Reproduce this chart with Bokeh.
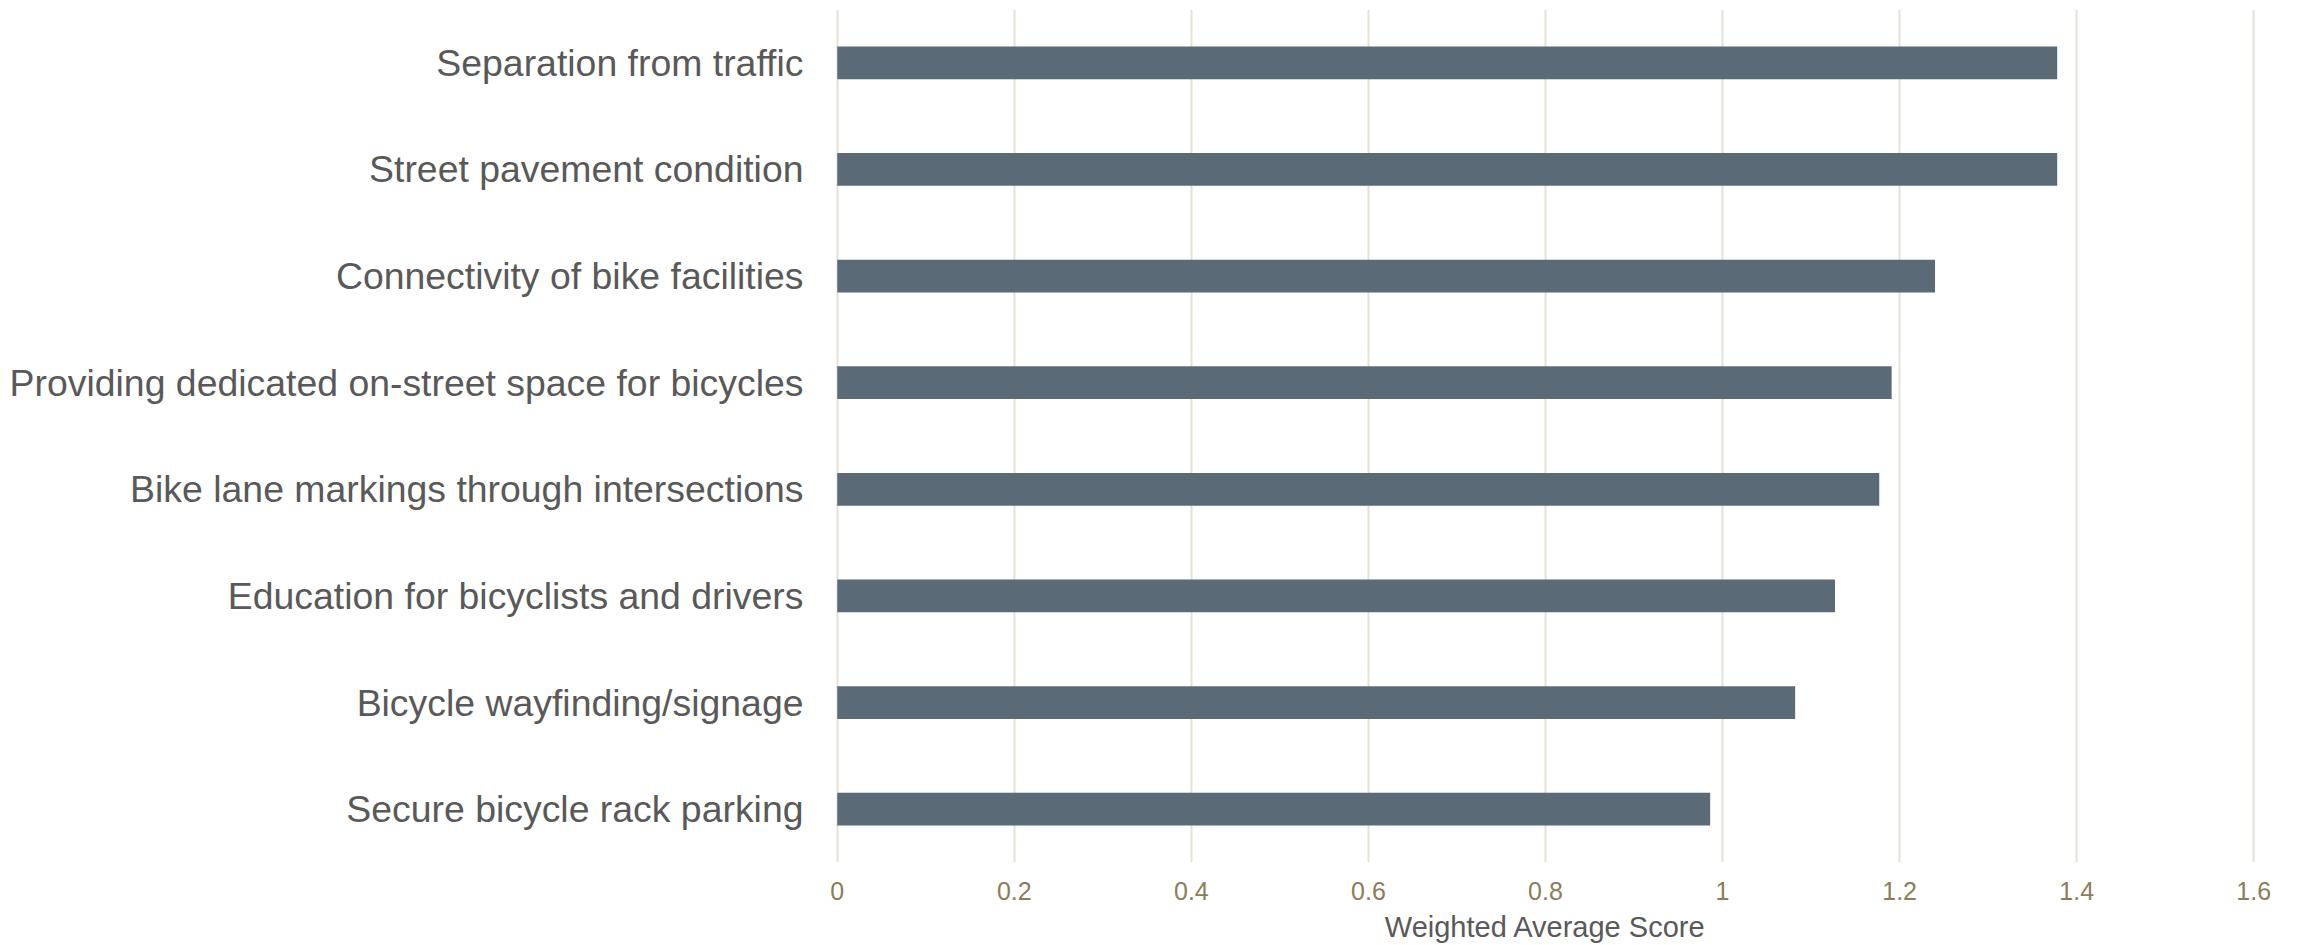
from bokeh.plotting import figure
from bokeh.models import FactorRange, Range1d, FixedTicker
from bokeh.embed import file_html
from bokeh.resources import INLINE

# Data (top to bottom as displayed)
categories = [
    "Separation from traffic",
    "Street pavement condition",
    "Connectivity of bike facilities",
    "Providing dedicated on-street space for bicycles",
    "Bike lane markings through intersections",
    "Education for bicyclists and drivers",
    "Bicycle wayfinding/signage",
    "Secure bicycle rack parking",
]
scores = [1.378, 1.378, 1.240, 1.191, 1.177, 1.127, 1.082, 0.986]
tick_values = [0, 0.2, 0.4, 0.6, 0.8, 1.0, 1.2, 1.4, 1.6]
tick_labels = ["0", "0.2", "0.4", "0.6", "0.8", "1", "1.2", "1.4", "1.6"]
x_title = "Weighted Average Score"

FONT = "Liberation Sans"

p = figure(
    width=2298, height=945,
    y_range=FactorRange(factors=list(reversed(categories)), range_padding=0),
    x_range=Range1d(-0.002, 1.602),
    output_backend="svg", toolbar_location=None,
    min_border_left=835, min_border_right=43, min_border_top=9, min_border_bottom=82,
)

p.hbar(y=categories, right=scores, left=0, height=0.306,
       fill_color="#5a6b77", line_color=None)

p.outline_line_color = None
p.background_fill_color = "white"
p.border_fill_color = "white"

# grids
p.ygrid.grid_line_color = None
p.xgrid.ticker = FixedTicker(ticks=tick_values)
p.xgrid.grid_line_color = "#e5e1d7"
p.xgrid.grid_line_width = 2

# x axis
p.xaxis.ticker = FixedTicker(ticks=tick_values)
p.xaxis.major_label_overrides = {v: l for v, l in zip(tick_values, tick_labels)}
p.xaxis.axis_line_color = None
p.xaxis.major_tick_line_color = None
p.xaxis.minor_tick_line_color = None
p.xaxis.major_tick_out = 0
p.xaxis.major_tick_in = 0
p.xaxis.major_label_standoff = 19
p.xaxis.major_label_text_font = FONT
p.xaxis.major_label_text_font_size = "25px"
p.xaxis.major_label_text_color = "#8b7d5a"
p.xaxis.axis_label = x_title
p.xaxis.axis_label_text_font = FONT
p.xaxis.axis_label_text_font_size = "29px"
p.xaxis.axis_label_text_font_style = "normal"
p.xaxis.axis_label_text_color = "#595959"
p.xaxis.axis_label_standoff = 8

# y axis
p.yaxis.axis_line_color = None
p.yaxis.major_tick_line_color = None
p.yaxis.minor_tick_line_color = None
p.yaxis.major_tick_out = 0
p.yaxis.major_tick_in = 0
p.yaxis.major_label_standoff = 32
p.yaxis.major_label_text_font = FONT
p.yaxis.major_label_text_font_size = "37.4px"
p.yaxis.major_label_text_color = "#595959"

open("out.html", "w").write(file_html(p, INLINE))
